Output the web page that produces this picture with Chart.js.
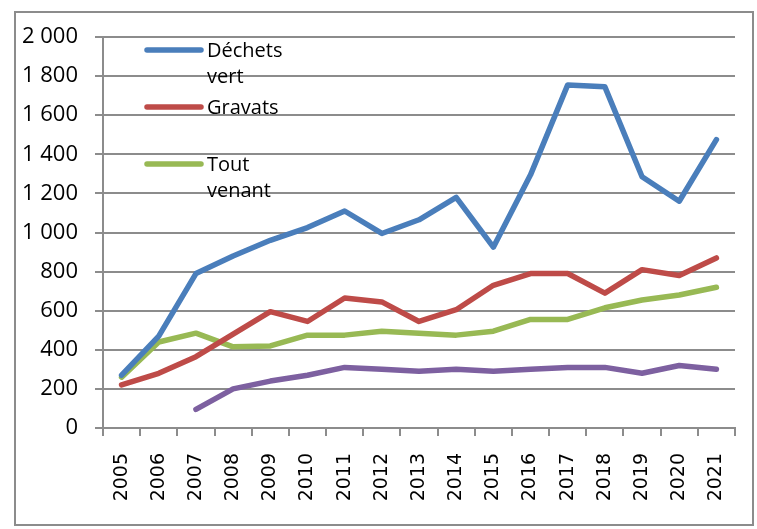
<!DOCTYPE html>
<html>
<head>
<meta charset="utf-8">
<script src="https://cdn.jsdelivr.net/npm/chart.js@4"></script>
<style>
  html, body { margin: 0; padding: 0; background: #fff; }
  #wrap { width: 757px; height: 529px; position: relative; }
</style>
</head>
<body>
<div id="wrap"><canvas id="chart"></canvas></div>
<script>
const years = ["2005", "2006", "2007", "2008", "2009", "2010", "2011", "2012", "2013",
  "2014", "2015", "2016", "2017", "2018", "2019", "2020", "2021"];
const dechetsVert = [270, 470, 790, 880, 960, 1025, 1110, 995, 1065, 1180, 925, 1295, 1755, 1745, 1285, 1160, 1475];
const gravats = [220, 280, 365, 480, 595, 545, 665, 645, 545, 605, 730, 790, 790, 690, 810, 780, 870];
const toutVenant = [260, 440, 485, 415, 420, 475, 475, 495, 485, 475, 495, 555, 555, 615, 655, 680, 720];
const autre = [null, null, 95, 200, 240, 270, 310, 300, 290, 300, 290, 300, 310, 310, 280, 320, 300];
const yTicks = [0, 200, 400, 600, 800, 1000, 1200, 1400, 1600, 1800, 2000];

const blue = "#4a7ebb";
const red = "#be4b48";
const green = "#98b954";
const purple = "#7d60a0";
const gridGray = "#8c8c8c";

// thousands with a space, like "1 800"
function fmt(v) {
  if (v < 1000) return String(v);
  const rest = String(v % 1000).padStart(3, "0");
  return Math.floor(v / 1000) + " " + rest;
}

const framePlugin = {
  id: "frame",
  beforeDraw(chart) {
    const ctx = chart.ctx;
    ctx.save();
    ctx.strokeStyle = gridGray;
    ctx.lineWidth = 2;
    ctx.strokeRect(15, 12, 738, 513);
    ctx.restore();
  },
};

// legend drawn inside the plot, words wrapped like the original
const legendPlugin = {
  id: "insideLegend",
  afterDraw(chart) {
    const ctx = chart.ctx;
    ctx.save();
    ctx.font = "20px 'Open Sans'";
    ctx.textBaseline = "middle";
    ctx.fillStyle = "#000";
    let y = 50;
    chart.data.datasets.forEach((ds) => {
      if (!ds.label) return;
      ctx.strokeStyle = ds.borderColor;
      ctx.lineWidth = 5.5;
      ctx.lineCap = "round";
      ctx.beginPath();
      ctx.moveTo(147, y);
      ctx.lineTo(201, y);
      ctx.stroke();
      const words = ds.label.split(" ");
      words.forEach((w, i) => ctx.fillText(w, 207, y + 1 + i * 26));
      y += 57;
    });
    ctx.restore();
  },
};

const line = (label, data, color) => ({
  label: label,
  data: data,
  borderColor: color,
  backgroundColor: color,
  borderWidth: 5.5,
  pointRadius: 0,
  tension: 0,
  borderCapStyle: "round",
  borderJoinStyle: "round",
});

new Chart(document.getElementById("chart"), {
  type: "line",
  data: {
    labels: years,
    datasets: [
      line("Déchets vert", dechetsVert, blue),
      line("Gravats", gravats, red),
      line("Tout venant", toutVenant, green),
      line("", autre, purple),
    ],
  },
  options: {
    responsive: true,
    maintainAspectRatio: false,
    animation: false,
    layout: { padding: { left: 0, top: 37, right: 22, bottom: 0 } },
    plugins: {
      legend: { display: false },
      tooltip: { enabled: false },
    },
    scales: {
      x: {
        offset: true,
        grid: {
          offset: true,
          drawOnChartArea: false,
          drawTicks: true,
          tickLength: 8,
          color: gridGray,
          lineWidth: 2,
        },
        border: { color: gridGray, width: 2 },
        ticks: {
          minRotation: 90,
          maxRotation: 90,
          padding: 17,
          color: "#000",
          font: { family: "'DejaVu Sans'", size: 19 },
        },
        afterFit(scale) { scale.height = 101; },
      },
      y: {
        min: 0,
        max: 2000,
        afterBuildTicks(scale) { scale.ticks = yTicks.map((v) => ({ value: v })); },
        grid: {
          color: gridGray,
          lineWidth: 2,
          tickLength: 8,
        },
        border: { color: gridGray, width: 2 },
        ticks: {
          padding: 17,
          color: "#000",
          font: { family: "'Open Sans'", size: 22 },
          callback: (v) => fmt(v),
        },
        afterFit(scale) { scale.width = 103; },
      },
    },
  },
  plugins: [framePlugin, legendPlugin],
});
</script>
</body>
</html>
